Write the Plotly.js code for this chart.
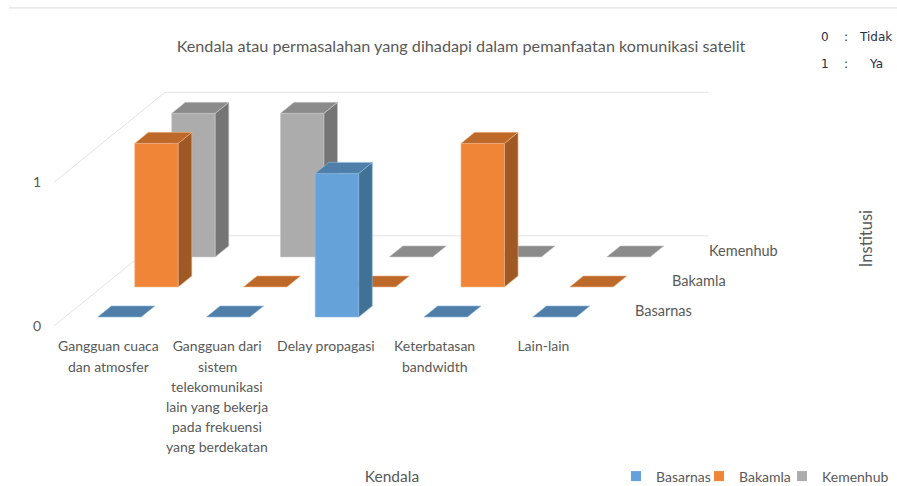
<!DOCTYPE html>
<html>
<head>
<meta charset="utf-8">
<script src="https://cdn.plot.ly/plotly-3.0.1.min.js"></script>
<style>
html,body{margin:0;padding:0;background:#fff;}
.legend .scrollbox{clip-path:none !important;}
</style>
</head>
<body>
<div id="chart" style="width:897px;height:486px;"></div>
<script>
// Data: 0 = Tidak, 1 = Ya
const categoryLines = [
  ["Gangguan cuaca", "dan atmosfer"],
  ["Gangguan dari", "sistem", "telekomunikasi", "lain yang bekerja", "pada frekuensi", "yang berdekatan"],
  ["Delay propagasi"],
  ["Keterbatasan", "bandwidth"],
  ["Lain-lain"]
];
const seriesNames = ["Basarnas", "Bakamla", "Kemenhub"];
const basarnas = [0, 0, 1, 0, 0];
const bakamla  = [1, 0, 0, 1, 0];
const kemenhub = [1, 1, 0, 0, 0];
const seriesValues = [basarnas, bakamla, kemenhub];

// Colours
const frontColors = ["#65A2DA", "#F08537", "#ABACAB"];
const topColors   = ["#4F7FA8", "#BC692A", "#8B8B8B"];
const sideColors  = ["#417296", "#9E5924", "#757575"];
const edgeColors  = ["#8CBBE6", "#F6B78A", "#C9CAC9"];
const textColor = "#595959";
const fontFamily = "Lato, 'Open Sans', sans-serif";

// Plot frame in page pixels
const W = 897, H = 486, L = 54, T = 80, PW = 676, PH = 245.7;
const paperX = px => (px - L) / PW;
const paperY = py => (T + PH - py) / PH;

// Oblique projection: one series step back moves this far in category / value units
const depthX = 37 / 108.75, depthY = 30 / 143.4;
const barHalf = 0.2, depthFront = 0.3, depthBack = 0.667;
const proj = (c, d, z) => [c + d * depthX, z + d * depthY];

function polygons(list) {
  const x = [], y = [];
  list.forEach(poly => {
    poly.forEach(p => { const q = proj(p[0], p[1], p[2]); x.push(q[0]); y.push(q[1]); });
    const q = proj(poly[0][0], poly[0][1], poly[0][2]); x.push(q[0], null); y.push(q[1], null);
  });
  return {x, y};
}

const traces = [];
function guide(points) {
  const xy = points.map(p => proj(p[0], p[1], p[2]));
  traces.push({x: xy.map(q => q[0]), y: xy.map(q => q[1]), mode: "lines", showlegend: false,
    hoverinfo: "skip", line: {color: "#E3E3E3", width: 1}});
}
guide([[0, 0, 1], [0, 3, 1], [5, 3, 1]]);
guide([[0, 0, 0], [0, 3, 0], [5, 3, 0]]);

// Bars, back series first
[2, 1, 0].forEach(s => {
  const front = [], side = [], top = [];
  const d0 = s + depthFront, d1 = s + depthBack;
  seriesValues[s].forEach((v, i) => {
    const a = i + 0.5 - barHalf, b = i + 0.5 + barHalf;
    if (v > 0) {
      front.push([[a, d0, 0], [b, d0, 0], [b, d0, v], [a, d0, v]]);
      side.push([[b, d0, 0], [b, d1, 0], [b, d1, v], [b, d0, v]]);
    }
    top.push([[a, d0, v], [b, d0, v], [b, d1, v], [a, d1, v]]);
  });
  [[front, frontColors[s]], [side, sideColors[s]], [top, topColors[s]]].forEach(f => {
    const xy = polygons(f[0]);
    traces.push({x: xy.x, y: xy.y, mode: "lines", fill: "toself", fillcolor: f[1],
      line: {color: edgeColors[s], width: 0.6}, showlegend: false, hoverinfo: "skip", name: seriesNames[s]});
  });
});

// Legend entries
[0, 1, 2].forEach(s => {
  traces.push({x: [null], y: [null], mode: "markers", name: seriesNames[s],
    marker: {symbol: "square", size: 10, color: frontColors[s]}, hoverinfo: "skip"});
});

const annotations = [];
const font = (size, color) => ({family: fontFamily, size: size, color: color || textColor});

// Extra lines of category labels
categoryLines.forEach((lines, i) => {
  lines.slice(1).forEach((t, j) => {
    annotations.push({x: i + 0.5, y: 0, xref: "x", yref: "y", text: t, showarrow: false,
      xanchor: "center", yanchor: "middle", yshift: -20.3 - 20.1 * (j + 1), font: font(14)});
  });
});
// Depth axis labels
seriesNames.forEach((t, s) => {
  const q = proj(5, s + 1, 0);
  annotations.push({x: q[0], y: q[1], xref: "x", yref: "y", text: t, showarrow: false,
    xanchor: "left", yanchor: "middle", yshift: -15, xshift: -2, font: font(14.5)});
});
// Depth axis title
annotations.push({x: paperX(866), y: paperY(239), xref: "paper", yref: "paper", text: "Institusi",
  showarrow: false, textangle: -90, xanchor: "center", yanchor: "middle", font: font(16.5)});
// Key
const keyFont = {family: "'DejaVu Sans', sans-serif", size: 12, color: "#26304a"};
[["0", 825, 37], [":", 846, 37], ["Tidak", 875.5, 37], ["1", 825, 64], [":", 846, 64], ["Ya", 875.5, 64]].forEach(k => {
  annotations.push({x: paperX(k[1]), y: paperY(k[2]), xref: "paper", yref: "paper", text: k[0],
    showarrow: false, xanchor: "center", yanchor: "middle", font: keyFont});
});

const layout = {
  width: W, height: H,
  paper_bgcolor: "#fff", plot_bgcolor: "#fff",
  margin: {l: L, r: W - L - PW, t: T, b: H - T - PH, autoexpand: false},
  title: {text: "Kendala atau permasalahan yang dihadapi dalam pemanfaatan komunikasi satelit",
    x: 461 / W, xanchor: "center", xref: "container", y: 1 - 46 / H, yanchor: "middle", yref: "container", font: font(16.2)},
  xaxis: {range: [0, PW / 108.75], showgrid: false, zeroline: false, showline: false, ticks: "",
    tickmode: "array", tickvals: categoryLines.map((_, i) => i + 0.5), ticktext: categoryLines.map(l => l[0]),
    tickangle: 0, tickfont: font(14), ticklabelstandoff: 10,
    title: {text: "Kendala", font: font(15.5), standoff: 118}},
  yaxis: {range: [0, PH / 143.4], showgrid: false, zeroline: false, showline: false, ticks: "",
    tickmode: "array", tickvals: [0, 1], ticktext: ["0", "1"], tickfont: font(14), ticklabelstandoff: 12},
  showlegend: true,
  legend: {orientation: "h", x: paperX(616), xanchor: "left", y: paperY(476), yanchor: "middle",
    entrywidth: 38, entrywidthmode: "pixels", font: font(14), bgcolor: "rgba(0,0,0,0)", traceorder: "normal"},
  shapes: [{type: "line", xref: "paper", yref: "paper", x0: paperX(9), x1: paperX(W), y0: paperY(8), y1: paperY(8),
    line: {color: "#DCDCDC", width: 1}}],
  annotations: annotations
};
Plotly.newPlot("chart", traces, layout, {displayModeBar: false, staticPlot: true});
</script>
</body>
</html>
